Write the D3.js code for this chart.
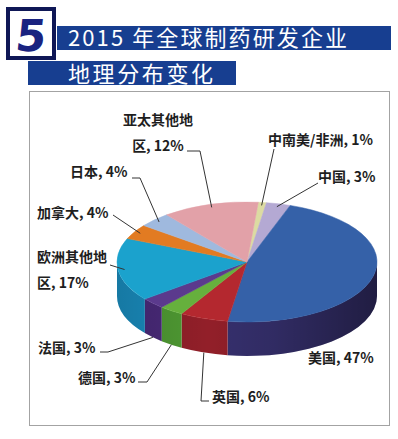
<!DOCTYPE html>
<html lang="zh">
<head>
<meta charset="UTF-8">
<title>2015年全球制药研发企业地理分布变化</title>
<script src="https://cdn.jsdelivr.net/npm/d3@7/dist/d3.min.js"></script>
<style>
  body { margin: 0; background: #fff; }
  text { font-family: "Noto Sans CJK SC", "Noto Sans", sans-serif; }
</style>
</head>
<body>
<svg width="398" height="439"></svg>
<script>
// data
var categories = ['中南美/非洲', '中国', '美国', '英国', '德国', '法国', '欧洲其他地区', '加拿大', '日本', '亚太其他地区'];
var values = [1, 3, 47, 6, 3, 3, 17, 4, 4, 12];
var topColors = ['#dcdba2', '#b4a9d3', '#3561a8', '#b4282f', '#66b03d', '#5b3a8d', '#1ba2cd', '#e27b22', '#9fb9de', '#e2a1a8'];
var sideColors = ['#b8b783', '#8f86ad', '#36306e', '#921f29', '#4f9a33', '#4a2a7a', '#1a8ec0', '#b8611a', '#7e96b8', '#b98187'];

// label layout: text position, line break, leader points (after the anchor on the pie)
var labelLayout = [
    {x: 268, y: 145, anchor: 'start', wrap: 0, pts: [[274, 149]], front: false},
    {x: 318, y: 182, anchor: 'start', wrap: 0, pts: [[318, 183]], front: false},
    {x: 308, y: 363, anchor: 'start', wrap: 0, pts: null, front: true},
    {x: 212, y: 402, anchor: 'start', wrap: 0, pts: [[201, 401], [209, 401]], front: true},
    {x: 78, y: 383, anchor: 'start', wrap: 0, pts: [[147, 382], [138, 382]], front: true},
    {x: 38, y: 353, anchor: 'start', wrap: 0, pts: [[108, 352], [100, 352]], front: true},
    {x: 37, y: 262, anchor: 'start', wrap: 5, pts: [[110, 265]], front: false},
    {x: 37, y: 218, anchor: 'start', wrap: 0, pts: [[113, 215]], front: false},
    {x: 70, y: 177, anchor: 'start', wrap: 0, pts: [[140, 178], [132, 178]], front: false},
    {x: 158, y: 125, anchor: 'middle', wrap: 5, pts: [[200, 151], [187, 151]], front: false}
];

var svg = d3.select('svg');

// 标题
var head = svg.append('g');
head.append('rect').attr('x', 57).attr('y', 26).attr('width', 334).attr('height', 24).attr('fill', '#173e90');
head.append('rect').attr('x', 28).attr('y', 61).attr('width', 208).attr('height', 24).attr('fill', '#173e90');
head.append('rect').attr('x', 8).attr('y', 9).attr('width', 46).attr('height', 49)
    .attr('fill', '#fff').attr('stroke', '#0f1756').attr('stroke-width', 4);
head.append('text').attr('x', 31).attr('y', 51).attr('text-anchor', 'middle')
    .attr('font-size', 44).attr('font-weight', 'bold').attr('fill', '#1a2380')
    .style('font-family', '"DejaVu Sans", sans-serif')
    .attr('transform', 'skewX(-6) translate(4,0)')
    .text('5');
head.append('text').attr('x', 68).attr('y', 46).attr('font-size', 22).attr('fill', '#fff')
    .attr('textLength', 279).attr('lengthAdjust', 'spacing')
    .text('2015 年全球制药研发企业');
head.append('text').attr('x', 68).attr('y', 82).attr('font-size', 22).attr('fill', '#fff')
    .attr('textLength', 145).attr('lengthAdjust', 'spacing')
    .text('地理分布变化');

// 图表边框
svg.append('rect').attr('x', 29.5).attr('y', 91.5).attr('width', 360).attr('height', 334)
    .attr('fill', 'none').attr('stroke', '#a3a3a3');

// 3D 饼图
var cx = 247, cy = 262, rx = 130, ry = 60, depth = 34;
var startDeg = 5;

var pie = d3.pie().sort(null)
    .startAngle(startDeg * Math.PI / 180)
    .endAngle(startDeg * Math.PI / 180 + 2 * Math.PI);
var arcs = pie(values);

function pt(a, k, dy) {
    k = k || 1;
    return [cx + rx * k * Math.sin(a), cy - ry * k * Math.cos(a) + (dy || 0)];
}

function topPath(d) {
    var p0 = pt(d.startAngle), p1 = pt(d.endAngle);
    var large = (d.endAngle - d.startAngle) > Math.PI ? 1 : 0;
    return 'M' + cx + ',' + cy + 'L' + p0 + 'A' + rx + ',' + ry + ' 0 ' + large + ' 1 ' + p1 + 'Z';
}

function sidePath(d) {
    var a0 = Math.max(d.startAngle, Math.PI / 2);
    var a1 = Math.min(d.endAngle, 3 * Math.PI / 2);
    if (a1 <= a0) return null;
    var p0 = pt(a0), p1 = pt(a1), q0 = pt(a0, 1, depth), q1 = pt(a1, 1, depth);
    return 'M' + p0 + 'A' + rx + ',' + ry + ' 0 0 1 ' + p1 + 'L' + q1 +
        'A' + rx + ',' + ry + ' 0 0 0 ' + q0 + 'Z';
}

var defs = svg.append('defs');
var shade = defs.append('linearGradient').attr('id', 'shade')
    .attr('gradientUnits', 'userSpaceOnUse')
    .attr('x1', cx - rx).attr('x2', cx + rx).attr('y1', 0).attr('y2', 0);
shade.append('stop').attr('offset', 0).attr('stop-color', '#000').attr('stop-opacity', 0.15);
shade.append('stop').attr('offset', 0.35).attr('stop-color', '#000').attr('stop-opacity', 0.0);
shade.append('stop').attr('offset', 0.6).attr('stop-color', '#000').attr('stop-opacity', 0.1);
shade.append('stop').attr('offset', 1).attr('stop-color', '#000').attr('stop-opacity', 0.4);

var pieG = svg.append('g');
var sides = arcs.filter(function (d) { return sidePath(d); });

pieG.selectAll('path.side').data(sides).enter().append('path')
    .attr('class', 'side')
    .attr('d', sidePath)
    .attr('fill', function (d) { return sideColors[d.index]; });
pieG.selectAll('path.shade').data(sides).enter().append('path')
    .attr('class', 'shade')
    .attr('d', sidePath)
    .attr('fill', 'url(#shade)');

pieG.selectAll('path.top').data(arcs).enter().append('path')
    .attr('class', 'top')
    .attr('d', topPath)
    .attr('fill', function (d) { return topColors[d.index]; })
    .attr('stroke', function (d) { return topColors[d.index]; })
    .attr('stroke-width', 0.5);

// 标签与引线
var labG = svg.append('g');
arcs.forEach(function (d) {
    var lay = labelLayout[d.index];
    var mid = (d.startAngle + d.endAngle) / 2;
    var anchorPt = lay.front ? pt(mid, 1, depth) : pt(mid, 0.95);
    if (lay.pts) {
        labG.append('path')
            .attr('d', d3.line()([anchorPt].concat(lay.pts)))
            .attr('fill', 'none').attr('stroke', '#333').attr('stroke-width', 1);
    }
    var name = categories[d.index];
    var full = name + ', ' + values[d.index] + '%';
    var lines = lay.wrap ? [full.slice(0, lay.wrap), full.slice(lay.wrap)] : [full];
    var t = labG.append('text')
        .attr('x', lay.x).attr('y', lay.y)
        .attr('text-anchor', lay.anchor)
        .attr('font-size', 14).attr('font-weight', 'bold').attr('fill', '#1e1e1e');
    lines.forEach(function (s, i) {
        t.append('tspan').attr('x', lay.x).attr('dy', i ? 26 : 0).text(s);
    });
});
</script>
</body>
</html>
